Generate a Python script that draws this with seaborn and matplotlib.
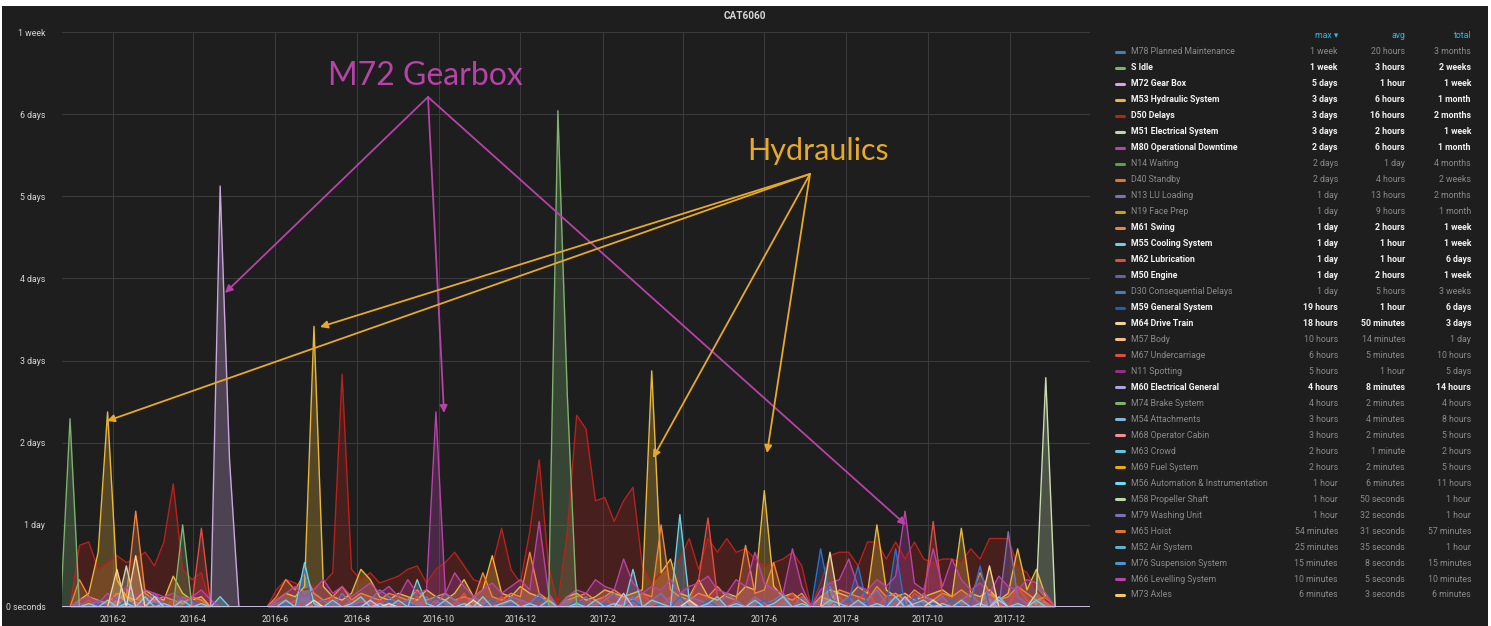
import pandas as pd
import numpy as np
import matplotlib
matplotlib.use("Agg")
import matplotlib.pyplot as plt
import matplotlib.dates as mdates
import matplotlib.ticker as mticker
import seaborn as sns
from matplotlib.lines import Line2D
from matplotlib.patches import Rectangle

# ----------------------------
# Data (hours per week)
# ----------------------------

start_week = "2015-12-24"
n_weeks = 111

d50_delays = [
    0, 0, 18, 19, 11, 13, 15, 13, 14, 16, 12, 19,
    36, 11, 8, 10, 0, 0, 0, 0, 0, 0, 0, 5,
    8, 7, 5, 6, 7, 10, 68, 11, 8, 10, 7, 8,
    9, 11, 12, 7, 11, 13, 16, 12, 8, 7, 12, 23,
    11, 7, 22, 43, 12, 1, 22, 56, 52, 31, 32, 25,
    31, 35, 12, 7, 10, 12, 14, 20, 11, 20, 16, 20,
    16, 17, 14, 12, 13, 14, 16, 12, 0, 7, 15, 16,
    16, 12, 19, 19, 14, 19, 14, 19, 14, 13, 14, 14,
    13, 17, 14, 20, 20, 20, 12, 10, 5, 2, 0, 0, 0, 0, 0,
]
m53_hydraulic = [
    0, 0, 2, 4, 16, 57, 8, 3, 2, 5, 3, 2,
    9, 4, 2, 3, 0, 0, 0, 0, 0, 0, 0, 2,
    4, 3, 6, 82, 6, 3, 2, 4, 11, 8, 3, 2,
    4, 3, 2, 5, 3, 2, 4, 8, 3, 5, 15, 4,
    3, 6, 4, 3, 2, 0, 3, 4, 2, 3, 5, 4,
    3, 4, 5, 69, 10, 14, 4, 3, 8, 3, 2, 4,
    3, 6, 5, 34, 6, 3, 4, 2, 0, 3, 5, 4,
    3, 6, 4, 24, 5, 3, 4, 2, 3, 4, 5, 3,
    23, 4, 3, 5, 2, 4, 17, 5, 11, 3, 0, 0, 0, 0, 0,
]
m61_swing = [
    0, 0, 8, 3, 2, 1, 4, 3, 28, 4, 2, 3,
    2, 1, 3, 2, 0, 0, 0, 0, 0, 0, 0, 3,
    8, 5, 10, 4, 2, 3, 6, 2, 4, 3, 2, 4,
    3, 2, 5, 2, 3, 4, 2, 3, 2, 10, 3, 2,
    4, 3, 16, 4, 2, 0, 2, 3, 4, 2, 3, 5,
    3, 2, 4, 3, 24, 5, 3, 2, 4, 3, 6, 3,
    2, 18, 4, 5, 13, 3, 2, 4, 0, 3, 2, 5,
    4, 3, 2, 6, 3, 4, 2, 5, 3, 2, 4, 3,
    5, 3, 10, 4, 2, 3, 6, 4, 2, 3, 0, 0, 0, 0, 0,
]
m55_cooling = [
    0, 0, 0, 1, 0, 2, 0, 1, 0, 3, 0, 1,
    0, 2, 0, 1, 0, 3, 0, 0, 0, 0, 0, 0,
    2, 0, 13, 1, 0, 2, 0, 1, 3, 0, 1, 0,
    2, 0, 8, 1, 0, 2, 0, 1, 0, 3, 0, 1,
    2, 0, 1, 0, 2, 0, 0, 1, 0, 2, 0, 1,
    0, 11, 0, 2, 1, 0, 27, 2, 0, 1, 3, 0,
    1, 0, 2, 0, 1, 3, 0, 1, 0, 0, 2, 1,
    0, 2, 0, 1, 0, 3, 0, 1, 2, 0, 1, 0,
    2, 0, 1, 0, 3, 0, 1, 0, 2, 0, 0, 0, 0, 0, 0,
]
m62_lubrication = [
    0, 0, 0, 2, 0, 1, 3, 0, 2, 0, 1, 0,
    2, 0, 1, 23, 0, 0, 0, 0, 0, 0, 0, 1,
    0, 2, 0, 1, 0, 3, 0, 2, 1, 0, 2, 0,
    1, 0, 3, 0, 2, 0, 1, 4, 0, 2, 0, 3,
    0, 2, 1, 0, 3, 0, 0, 2, 0, 1, 3, 0,
    2, 0, 4, 1, 0, 3, 0, 2, 8, 26, 3, 0,
    2, 0, 3, 1, 0, 2, 4, 0, 0, 1, 0, 3,
    0, 2, 5, 0, 3, 1, 0, 4, 2, 25, 3, 0,
    2, 4, 0, 3, 1, 0, 6, 2, 0, 3, 0, 0, 0, 0, 0,
]
m50_engine = [
    0, 0, 1, 0, 2, 0, 3, 1, 0, 2, 4, 1,
    0, 3, 2, 0, 0, 0, 0, 0, 0, 0, 0, 1,
    2, 0, 3, 1, 2, 0, 4, 1, 0, 2, 5, 3,
    1, 2, 0, 3, 1, 4, 2, 0, 3, 1, 2, 0,
    3, 2, 1, 4, 0, 0, 2, 1, 3, 0, 2, 4,
    1, 3, 0, 2, 4, 1, 0, 3, 2, 1, 0, 4,
    2, 0, 3, 1, 2, 4, 0, 3, 0, 2, 6, 1,
    3, 0, 2, 5, 1, 3, 0, 2, 4, 1, 3, 0,
    2, 4, 1, 3, 0, 22, 3, 1, 2, 0, 0, 0, 0, 0, 0,
]
m59_general = [
    0, 0, 0, 0, 1, 0, 0, 2, 0, 0, 1, 0,
    0, 0, 2, 0, 0, 0, 0, 0, 0, 0, 0, 0,
    1, 0, 11, 0, 0, 2, 0, 0, 1, 0, 0, 2,
    0, 1, 0, 0, 3, 0, 0, 1, 0, 0, 2, 0,
    1, 0, 0, 3, 0, 0, 0, 2, 0, 0, 1, 0,
    0, 2, 0, 0, 1, 0, 3, 0, 0, 2, 0, 0,
    1, 0, 0, 2, 0, 0, 0, 1, 0, 17, 3, 0,
    2, 12, 0, 1, 0, 17, 0, 3, 0, 1, 0, 2,
    0, 1, 12, 0, 2, 0, 1, 0, 0, 0, 0, 0, 0, 0, 0,
]
m64_drive_train = [
    0, 0, 0, 0, 0, 0, 11, 0, 15, 0, 0, 0,
    0, 0, 0, 0, 0, 0, 0, 0, 0, 0, 0, 0,
    0, 0, 0, 2, 0, 0, 0, 0, 0, 0, 0, 1,
    0, 0, 0, 0, 0, 0, 0, 0, 2, 0, 0, 0,
    0, 0, 0, 0, 0, 0, 0, 0, 0, 0, 0, 0,
    0, 0, 0, 0, 0, 0, 0, 2, 0, 0, 0, 0,
    0, 0, 0, 0, 0, 0, 0, 0, 0, 0, 16, 0,
    0, 0, 0, 0, 0, 0, 0, 0, 0, 2, 0, 0,
    0, 0, 0, 12, 0, 0, 0, 0, 0, 0, 0, 0, 0, 0, 0,
]
m60_electrical_general = [
    0, 0, 0, 0, 0, 0, 0, 0, 0, 0, 3, 0,
    0, 0, 0, 0, 0, 0, 0, 0, 0, 0, 0, 0,
    0, 0, 0, 0, 0, 0, 0, 0, 0, 2, 0, 0,
    0, 0, 0, 0, 0, 0, 0, 0, 0, 0, 0, 0,
    0, 0, 0, 0, 0, 0, 0, 0, 0, 0, 0, 0,
    4, 0, 0, 0, 0, 0, 0, 0, 0, 0, 0, 0,
    0, 0, 0, 0, 0, 0, 0, 0, 0, 0, 0, 0,
    0, 0, 0, 0, 0, 0, 3, 0, 0, 0, 0, 0,
    0, 0, 0, 0, 2, 0, 0, 0, 0, 0, 0, 0, 0, 0, 0,
]
m72_gear_box = [
    0, 0, 0, 0, 0, 0, 0, 0, 0, 0, 0, 0,
    0, 0, 0, 0, 0, 123, 43, 0, 0, 0, 0, 0,
    0, 0, 0, 0, 0, 0, 0, 0, 0, 0, 0, 0,
    0, 0, 0, 0, 0, 0, 0, 0, 0, 0, 0, 0,
    0, 0, 0, 0, 0, 0, 0, 0, 0, 0, 0, 0,
    0, 0, 0, 0, 0, 0, 0, 0, 0, 0, 0, 0,
    0, 0, 0, 0, 0, 0, 0, 0, 0, 0, 0, 0,
    0, 0, 0, 0, 0, 0, 0, 0, 0, 0, 0, 0,
    0, 0, 0, 0, 0, 0, 0, 0, 0, 0, 0, 0, 0, 0, 0,
]
m80_operational_downtime = [
    0, 0, 2, 3, 1, 4, 2, 6, 3, 5, 4, 3,
    4, 2, 3, 5, 2, 0, 0, 0, 0, 0, 0, 2,
    4, 6, 3, 5, 8, 4, 6, 3, 5, 7, 4, 6,
    3, 8, 4, 5, 57, 4, 10, 6, 3, 5, 7, 4,
    6, 8, 5, 25, 4, 0, 3, 5, 4, 8, 6, 5,
    14, 7, 4, 6, 5, 8, 4, 6, 7, 9, 5, 4,
    8, 6, 16, 7, 5, 4, 17, 6, 0, 5, 7, 8,
    14, 6, 5, 8, 6, 9, 28, 7, 5, 17, 6, 14,
    8, 5, 7, 4, 9, 6, 5, 8, 7, 4, 0, 0, 0, 0, 0,
]
s_idle = [
    0, 55, 0, 0, 0, 0, 0, 0, 0, 0, 0, 0,
    0, 24, 0, 0, 0, 0, 0, 0, 0, 0, 0, 0,
    0, 0, 0, 0, 0, 0, 0, 0, 0, 0, 0, 0,
    0, 0, 0, 0, 0, 0, 0, 0, 0, 0, 0, 0,
    0, 0, 0, 0, 0, 145, 62, 0, 0, 0, 0, 0,
    0, 0, 0, 0, 0, 0, 0, 0, 0, 0, 0, 0,
    0, 0, 0, 0, 0, 0, 0, 0, 0, 0, 0, 0,
    0, 0, 0, 0, 0, 0, 0, 0, 0, 0, 0, 0,
    0, 0, 0, 0, 0, 0, 0, 0, 0, 0, 0, 0, 0, 0, 0,
]
m51_electrical = [
    0, 0, 0, 0, 0, 0, 0, 12, 0, 0, 0, 0,
    0, 0, 0, 0, 0, 0, 0, 0, 0, 0, 0, 0,
    0, 0, 0, 0, 0, 0, 0, 0, 0, 0, 0, 0,
    0, 0, 0, 0, 0, 0, 0, 0, 0, 0, 0, 0,
    0, 0, 0, 0, 0, 0, 0, 0, 0, 0, 0, 0,
    0, 0, 0, 0, 0, 0, 0, 0, 0, 0, 0, 0,
    0, 0, 0, 0, 0, 0, 0, 0, 0, 0, 0, 0,
    0, 0, 0, 0, 0, 0, 0, 0, 0, 0, 0, 0,
    0, 0, 0, 0, 0, 0, 0, 0, 4, 67, 0, 0, 0, 0, 0,
]

# drawing order (first = bottom)
plot_series = [
    ("D50 Delays", d50_delays, "#B8221A"),
    ("M53 Hydraulic System", m53_hydraulic, "#EAB839"),
    ("M61 Swing", m61_swing, "#EF843C"),
    ("M62 Lubrication", m62_lubrication, "#E24D42"),
    ("M50 Engine", m50_engine, "#806EB7"),
    ("M59 General System", m59_general, "#2F6FC4"),
    ("M55 Cooling System", m55_cooling, "#6ED0E0"),
    ("M80 Operational Downtime", m80_operational_downtime, "#BA43A9"),
    ("M64 Drive Train", m64_drive_train, "#F4D598"),
    ("S Idle", s_idle, "#7EB26D"),
    ("M51 Electrical System", m51_electrical, "#C9DDB0"),
    ("M72 Gear Box", m72_gear_box, "#C9A6DC"),
    ("M60 Electrical General", m60_electrical_general, "#C8BEF0"),
]

# legend table
legend_names = ["M78 Planned Maintenance", "S Idle", "M72 Gear Box", "M53 Hydraulic System",
                "D50 Delays", "M51 Electrical System", "M80 Operational Downtime", "N14 Waiting",
                "D40 Standby", "N13 LU Loading", "N19 Face Prep", "M61 Swing", "M55 Cooling System",
                "M62 Lubrication", "M50 Engine", "D30 Consequential Delays", "M59 General System",
                "M64 Drive Train", "M57 Body", "M67 Undercarriage", "N11 Spotting",
                "M60 Electrical General", "M74 Brake System", "M54 Attachments", "M68 Operator Cabin",
                "M63 Crowd", "M69 Fuel System", "M56 Automation & Instrumentation",
                "M58 Propeller Shaft", "M79 Washing Unit", "M65 Hoist", "M52 Air System",
                "M76 Suspension System", "M66 Levelling System", "M73 Axles"]
legend_max = ["1 week", "1 week", "5 days", "3 days", "3 days", "3 days", "2 days", "2 days",
              "2 days", "1 day", "1 day", "1 day", "1 day", "1 day", "1 day", "1 day", "19 hours",
              "18 hours", "10 hours", "6 hours", "5 hours", "4 hours", "4 hours", "3 hours",
              "3 hours", "2 hours", "2 hours", "1 hour", "1 hour", "1 hour", "54 minutes",
              "25 minutes", "15 minutes", "10 minutes", "6 minutes"]
legend_avg = ["20 hours", "3 hours", "1 hour", "6 hours", "16 hours", "2 hours", "6 hours", "1 day",
              "4 hours", "13 hours", "9 hours", "2 hours", "1 hour", "1 hour", "2 hours", "5 hours",
              "1 hour", "50 minutes", "14 minutes", "5 minutes", "1 hour", "8 minutes", "2 minutes",
              "4 minutes", "2 minutes", "1 minute", "2 minutes", "6 minutes", "50 seconds",
              "32 seconds", "31 seconds", "35 seconds", "8 seconds", "5 seconds", "3 seconds"]
legend_total = ["3 months", "2 weeks", "1 week", "1 month", "2 months", "1 week", "1 month",
                "4 months", "2 weeks", "2 months", "1 month", "1 week", "1 week", "6 days", "1 week",
                "3 weeks", "6 days", "3 days", "1 day", "10 hours", "5 days", "14 hours", "4 hours",
                "8 hours", "5 hours", "2 hours", "5 hours", "11 hours", "1 hour", "1 hour",
                "57 minutes", "1 hour", "15 minutes", "10 minutes", "6 minutes"]
legend_colors = ["#447EBC", "#7EB26D", "#D8A6E0", "#EAB839", "#B8221A", "#B7DBAB", "#BA43A9",
                 "#629E51", "#E0752D", "#806EB7", "#CCA300", "#EF843C", "#6ED0E0", "#E24D42",
                 "#705DA0", "#447EBC", "#1F5FB0", "#F4D598", "#F9BA8F", "#E24D42", "#962D82",
                 "#AEA2E0", "#7EB26D", "#82B5D8", "#F29191", "#65C5DB", "#E5AC0E", "#70DBED",
                 "#B7DBAB", "#806EB7", "#E0752D", "#64B0C8", "#5195CE", "#BA43A9", "#F2C96D"]
visible = {name for name, _, _ in plot_series}

y_ticks_hours = [0, 24, 48, 72, 96, 120, 144, 168]
y_tick_labels = ["0 seconds", "1 day", "2 days", "3 days", "4 days", "5 days", "6 days", "1 week"]

# ----------------------------
# Build long table
# ----------------------------

weeks = pd.date_range(start_week, periods=n_weeks, freq="7D")
frames = []
for name, vals, _ in plot_series:
    frames.append(pd.DataFrame({"date": weeks, "hours": vals, "series": name}))
df = pd.concat(frames, ignore_index=True)

# ----------------------------
# Plot
# ----------------------------

W, H = 1491, 626
BG = "#1e1e1f"
TXT = "#d6d7d9"

sns.set_style("dark")
plt.rcParams["font.family"] = ["Roboto", "DejaVu Sans"]

fig = plt.figure(figsize=(W / 100, H / 100), dpi=100)
fig.patch.set_facecolor("white")
fig.add_artist(Rectangle((2 / W, 0), 1486 / W, 620 / H, transform=fig.transFigure,
                         facecolor=BG, edgecolor="none", zorder=0))

ax = fig.add_axes([62 / W, 19 / H, 1028 / W, 575 / H])
ax.set_facecolor(BG)

palette = {name: color for name, _, color in plot_series}
sns.lineplot(data=df, x="date", y="hours", hue="series",
             hue_order=[n for n, _, _ in plot_series], palette=palette,
             estimator=None, linewidth=1.0, legend=False, ax=ax)

for name, vals, color in plot_series:
    ax.fill_between(weeks, vals, 0, color=color, alpha=0.27, linewidth=0, zorder=1)

ax.set_xlim(pd.Timestamp("2015-12-25"), pd.Timestamp("2018-01-30"))
ax.set_ylim(0, 168)
ax.set_yticks(y_ticks_hours)
ax.set_yticklabels(y_tick_labels)
ax.xaxis.set_major_locator(mdates.MonthLocator(bymonth=(2, 4, 6, 8, 10, 12)))
ax.xaxis.set_major_formatter(mticker.FuncFormatter(
    lambda v, p: "{}-{}".format(mdates.num2date(v).year, mdates.num2date(v).month)))
ax.set_xlabel("")
ax.set_ylabel("")

ax.grid(True, color="#3a3a3c", linewidth=0.8)
ax.tick_params(axis="both", length=0, labelsize=6.3, labelcolor=TXT)
ax.tick_params(axis="y", pad=12)
ax.tick_params(axis="x", pad=6)
for s in ax.spines.values():
    s.set_visible(False)

fig.text(745 / W, 1 - 16 / H, "CAT6060", ha="center", va="center",
         fontsize=7.2, fontweight="bold", color=TXT)

# ----------------------------
# Legend table
# ----------------------------

head_y = 36
fig.text(1338 / W, 1 - head_y / H, "max \u25BE", ha="right", va="center", fontsize=6.3,
         color="#33B5E5", family=["Roboto", "DejaVu Sans"])
fig.text(1405 / W, 1 - head_y / H, "avg", ha="right", va="center", fontsize=6.3, color="#33B5E5")
fig.text(1471 / W, 1 - head_y / H, "total", ha="right", va="center", fontsize=6.3, color="#33B5E5")

for k, name in enumerate(legend_names):
    y = 1 - (52 + k * 15.97) / H
    on = name in visible
    col = "#f2f2f2" if on else "#8a8a8a"
    wt = "bold" if on else "normal"
    fig.add_artist(Line2D([1116 / W, 1124 / W], [y, y], color=legend_colors[k],
                          linewidth=2.2, transform=fig.transFigure))
    fig.text(1131 / W, y, name, ha="left", va="center", fontsize=6.3, color=col, fontweight=wt)
    fig.text(1338 / W, y, legend_max[k], ha="right", va="center", fontsize=6.3, color=col, fontweight=wt)
    fig.text(1405 / W, y, legend_avg[k], ha="right", va="center", fontsize=6.3, color=col, fontweight=wt)
    fig.text(1471 / W, y, legend_total[k], ha="right", va="center", fontsize=6.3, color=col, fontweight=wt)

# ----------------------------
# Hand drawn annotations
# ----------------------------

GEAR = "#B543A8"
HYD = "#E8A928"

fig.text(328 / W, 1 - 85 / H, "M72 Gearbox", ha="left", va="baseline",
         fontsize=23, color=GEAR, family="Lato")
fig.text(747 / W, 1 - 160 / H, "Hydraulics", ha="left", va="baseline",
         fontsize=22, color=HYD, family="Lato")

gear_from = (428, 97)
gear_to = [(225, 293), (444, 413), (906, 525)]
hyd_from = (810, 174)
hyd_to = [(107, 421), (320, 327), (653, 458), (767, 453)]

for origin, targets, color in [(gear_from, gear_to, GEAR), (hyd_from, hyd_to, HYD)]:
    for tx, ty in targets:
        ax.annotate("", xy=(tx, H - ty), xycoords="figure pixels",
                    xytext=(origin[0], H - origin[1]), textcoords="figure pixels",
                    annotation_clip=False,
                    arrowprops=dict(arrowstyle="-|>", color=color, lw=1.3,
                                    mutation_scale=11, shrinkA=0, shrinkB=0))

fig.savefig("out.png", dpi=100, facecolor=fig.get_facecolor())
